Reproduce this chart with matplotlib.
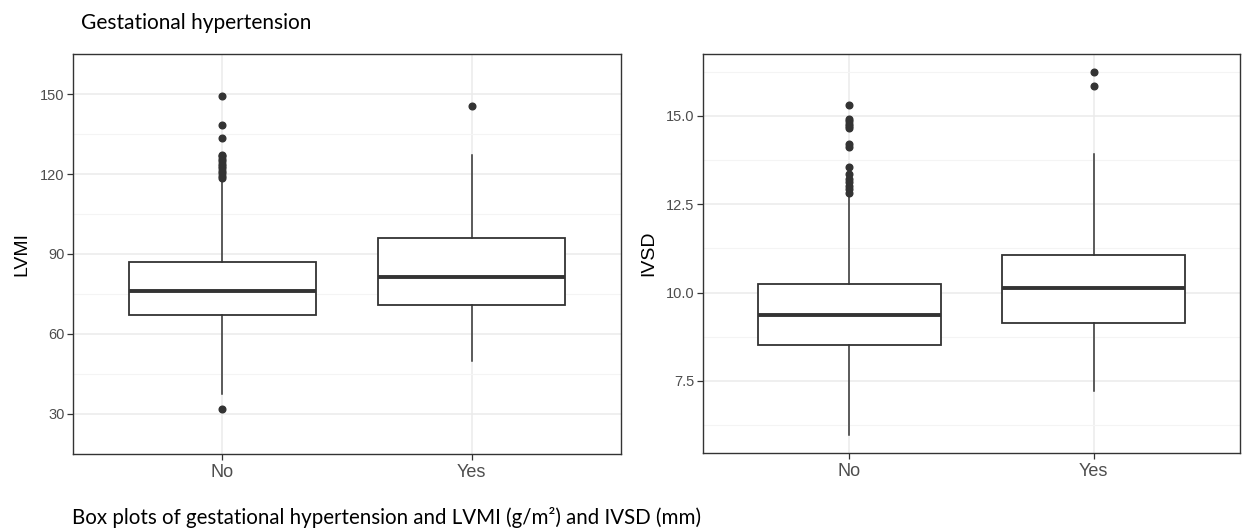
import matplotlib
matplotlib.use("Agg")
import matplotlib.pyplot as plt
import numpy as np

# group labels
groups = ["No", "Yes"]

# LVMI box statistics (g/m2)
lvmi_q1 = [67.0, 71.0]
lvmi_med = [76.1, 81.2]
lvmi_q3 = [87.1, 96.0]
lvmi_lo = [37.4, 50.0]
lvmi_hi = [118.0, 127.1]
lvmi_out_no = [31.7, 118.5, 119.4, 120.3, 121.2, 122.1, 123.0, 123.9,
               124.8, 125.7, 126.6, 127.3, 133.6, 138.2, 149.1]
lvmi_out_yes = [145.4]

# IVSD box statistics (mm)
ivsd_q1 = [8.52, 9.14]
ivsd_med = [9.37, 10.13]
ivsd_q3 = [10.23, 11.07]
ivsd_lo = [5.97, 7.2]
ivsd_hi = [12.75, 13.91]
ivsd_out_no = [12.82, 12.92, 13.02, 13.12, 13.22, 13.36, 13.55, 14.13,
               14.2, 14.66, 14.72, 14.78, 14.85, 14.92, 15.31]
ivsd_out_yes = [15.85, 16.24]

lvmi_ticks = [30, 60, 90, 120, 150]
ivsd_ticks = [7.5, 10.0, 12.5, 15.0]

DARK = "#333333"
TXT = "#4D4D4D"

plt.rcParams["font.family"] = ["Liberation Sans", "DejaVu Sans"]


def make_stats(q1, med, q3, lo, hi, outs):
    stats = []
    for i in range(len(groups)):
        stats.append(dict(q1=q1[i], med=med[i], q3=q3[i], whislo=lo[i],
                          whishi=hi[i], fliers=outs[i], label=groups[i]))
    return stats


def draw_panel(ax, stats, ticks, label, fmt, label_x):
    ax.bxp(stats, positions=[1, 2], widths=0.75, patch_artist=True,
           showcaps=False,
           boxprops=dict(facecolor="white", edgecolor=DARK, linewidth=1.3),
           medianprops=dict(color=DARK, linewidth=2.8),
           whiskerprops=dict(color=DARK, linewidth=1.1),
           flierprops=dict(marker="o", markerfacecolor=DARK,
                           markeredgecolor=DARK, markersize=4.8))

    # ggplot style 5% expansion around data
    vals = []
    for s in stats:
        vals += [s["whislo"], s["whishi"]] + list(s["fliers"])
    lo, hi = min(vals), max(vals)
    pad = (hi - lo) * 0.05
    ax.set_ylim(lo - pad, hi + pad)
    ax.set_xlim(0.4, 2.6)

    ax.set_yticks(ticks)
    ax.set_yticklabels([fmt.format(t) for t in ticks])
    step = ticks[1] - ticks[0]
    minors = [t - step / 2 for t in ticks] + [ticks[-1] + step / 2]
    ax.set_yticks(minors, minor=True)
    ax.set_xticks([1, 2])
    ax.set_xticklabels(groups)

    ax.set_axisbelow(True)
    ax.grid(which="major", color="#EBEBEB", linewidth=1.1)
    ax.grid(which="minor", axis="y", color="#F4F4F4", linewidth=0.8)
    ax.tick_params(which="minor", length=0)
    ax.tick_params(axis="both", which="major", length=4, width=0.9,
                   color=DARK, labelcolor=TXT, pad=2)
    ax.tick_params(axis="y", labelsize=10.5)
    ax.tick_params(axis="x", labelsize=13, pad=3)
    for sp in ax.spines.values():
        sp.set_color(DARK)
        sp.set_linewidth(1.0)

    ax.set_ylabel(label, fontsize=14, color="black")
    ax.yaxis.set_label_coords(label_x, 0.5)


fig = plt.figure(figsize=(12.42, 5.29), dpi=100)
ax1 = fig.add_axes([0.0588, 0.1418, 0.4412, 0.7561])
ax2 = fig.add_axes([0.566, 0.1437, 0.4325, 0.7543])

draw_panel(ax1, make_stats(lvmi_q1, lvmi_med, lvmi_q3, lvmi_lo, lvmi_hi,
                           [lvmi_out_no, lvmi_out_yes]),
           lvmi_ticks, "LVMI", "{:g}", -0.077)
draw_panel(ax2, make_stats(ivsd_q1, ivsd_med, ivsd_q3, ivsd_lo, ivsd_hi,
                           [ivsd_out_no, ivsd_out_yes]),
           ivsd_ticks, "IVSD", "{:.1f}", -0.085)

fig.text(81 / 1242, 1 - 23 / 529, "Gestational hypertension",
         fontsize=15, family=["Lato", "DejaVu Sans"], va="center")
fig.text(72 / 1242, 1 - 517 / 529,
         "Box plots of gestational hypertension and LVMI (g/m²) and IVSD (mm)",
         fontsize=14.8, family=["Lato", "DejaVu Sans"], va="center")

fig.savefig("out.png", dpi=100)
